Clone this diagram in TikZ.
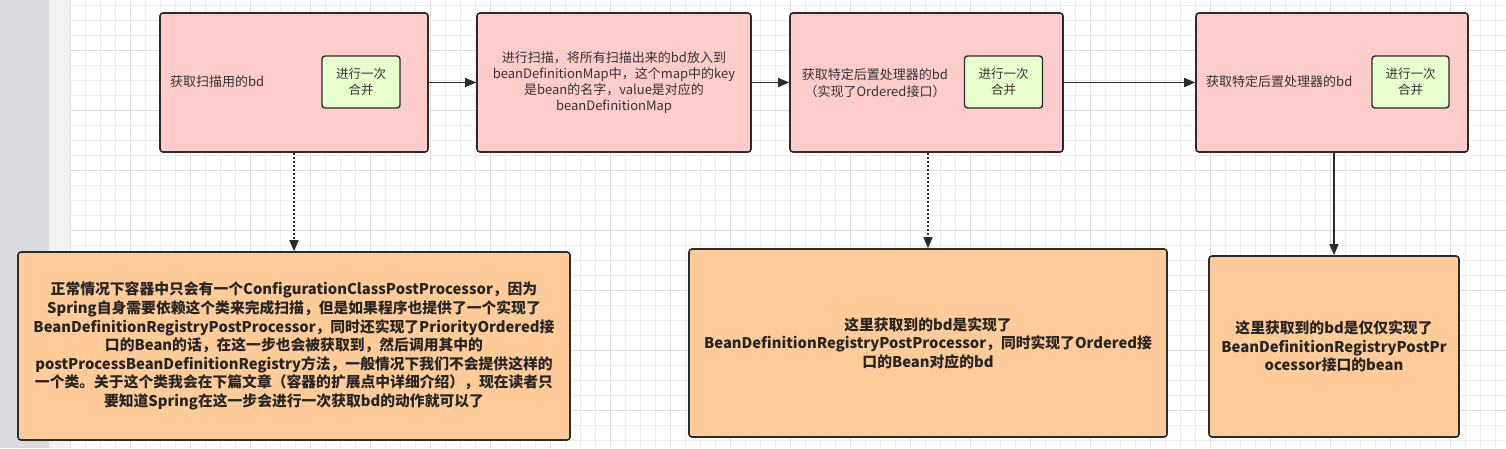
\documentclass[tikz,border=0pt]{standalone}
\usepackage{fontspec}
\setmainfont{Noto Sans CJK SC}
\usetikzlibrary{arrows.meta}
\definecolor{pinkf}{HTML}{FFCCCC}
\definecolor{greenf}{HTML}{E6FFCC}
\definecolor{orangef}{HTML}{FFCC99}
\definecolor{edgec}{HTML}{2B2B2B}
\definecolor{txtc}{HTML}{333333}
\definecolor{gridminor}{HTML}{EDEDED}
\definecolor{gridmajor}{HTML}{DEDEDE}
\definecolor{stripdark}{HTML}{D9DADD}
\definecolor{striplight}{HTML}{F1F1F1}
\tikzset{
  pinkbox/.style={draw=edgec, fill=pinkf, line width=1.6pt, rounded corners=3pt, inner sep=0pt},
  greenbox/.style={draw=edgec, fill=greenf, line width=1.4pt, rounded corners=3pt, inner sep=0pt,
    align=center, text=txtc, font=\fontsize{12.5}{16}\selectfont},
  orangebox/.style={draw=edgec, fill=orangef, line width=1.6pt, rounded corners=3pt, inner sep=0pt,
    align=center, text=black!85, font=\bfseries\fontsize{14.8}{18.6}\selectfont},
  toptext/.style={text=txtc, inner sep=0pt, align=center, font=\fontsize{13}{16.3}\selectfont},
  flow/.style={draw=edgec, line width=1.5pt, -{Triangle[length=11pt,width=9pt]}},
  dotflow/.style={flow, dash pattern=on 2pt off 2pt},
}
\begin{document}
\begin{tikzpicture}[x=1pt,y=-1pt]
\useasboundingbox (0,0) rectangle (1506,448);
% background
\fill[white] (0,0) rectangle (1506,448);
\fill[stripdark] (0,0) rectangle (49,448);
\fill[striplight] (49,0) rectangle (70,448);
\foreach \x in {70,85,...,1506} \draw[gridminor, line width=0.8pt] (\x,0) -- (\x,448);
\foreach \y in {5.7,20.7,...,448} \draw[gridminor, line width=0.8pt] (70,\y) -- (1506,\y);
\foreach \x in {70,130,...,1506} \draw[gridmajor, line width=0.9pt] (\x,0) -- (\x,448);
\foreach \y in {50.7,110.7,...,448} \draw[gridmajor, line width=0.9pt] (70,\y) -- (1506,\y);

% top row
\node[pinkbox, minimum width=268pt, minimum height=139pt] (b1) at (294,82.5) {};
\node[toptext, anchor=west] (t1) at (170,82) {获取扫描用的bd};
\node[greenbox, minimum width=78pt, minimum height=52pt] (g1) at (361,82) {进行一次\\合并};

\node[pinkbox, toptext, minimum width=274pt, minimum height=139pt] (b2) at (614,82.5)
  {进行扫描，将所有扫描出来的bd放入到\\beanDefinitionMap中，这个map中的key\\是bean的名字，value是对应的\\beanDefinitionMap};

\node[pinkbox, minimum width=273pt, minimum height=139pt] (b3) at (926.5,82.5) {};
\node[toptext] (t3) at (875,83) {获取特定后置处理器的bd\\（实现了Ordered接口）};
\node[greenbox, minimum width=78pt, minimum height=52pt] (g3) at (1003.5,82) {进行一次\\合并};

\node[pinkbox, minimum width=272pt, minimum height=139pt] (b4) at (1332,82.5) {};
\node[toptext, anchor=west] (t4) at (1206,82) {获取特定后置处理器的bd};
\node[greenbox, minimum width=77pt, minimum height=52pt] (g4) at (1410.5,82) {进行一次\\合并};

% bottom row
\node[orangebox, minimum width=552pt, minimum height=188pt] (b5) at (294,346)
  {正常情况下容器中只会有一个ConfigurationClassPostProcessor，因为\\
   Spring自身需要依赖这个类来完成扫描，但是如果程序也提供了一个实现了\\
   BeanDefinitionRegistryPostProcessor，同时还实现了PriorityOrdered接\\
   口的Bean的话，在这一步也会被获取到，然后调用其中的\\
   postProcessBeanDefinitionRegistry方法，一般情况下我们不会提供这样的\\
   一个类。关于这个类我会在下篇文章（容器的扩展点中详细介绍），现在读者只\\
   要知道Spring在这一步会进行一次获取bd的动作就可以了};

\node[orangebox, minimum width=478pt, minimum height=188pt] (b6) at (928,343)
  {这里获取到的bd是实现了\\
   BeanDefinitionRegistryPostProcessor，同时实现了Ordered接\\
   口的Bean对应的bd};

\node[orangebox, minimum width=250pt, minimum height=181pt] (b7) at (1334,346.5)
  {这里获取到的bd是仅仅实现了\\
   BeanDefinitionRegistryPostPr\\
   ocessor接口的bean};

% connectors
\draw[flow] (b1.east) -- (b2.west);
\draw[flow] (b2.east) -- (b3.west);
\draw[flow] (b3.east) -- (b4.west);
\draw[dotflow] (b1.south) -- (b5.north);
\draw[dotflow] (b3.south -| b6.north) -- (b6.north);
\draw[flow] (b4.south -| b7.north) -- (b7.north);
\end{tikzpicture}
\end{document}
